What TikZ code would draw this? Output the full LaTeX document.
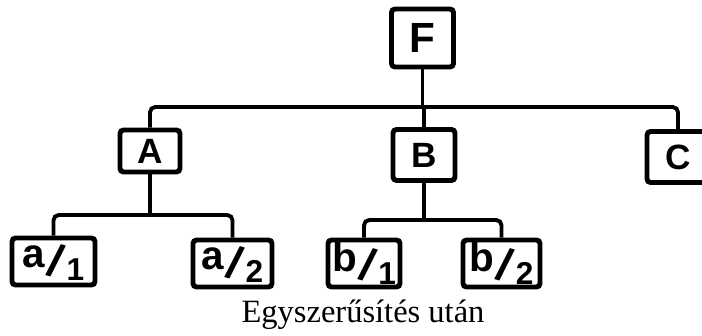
\documentclass[tikz,border=0pt]{standalone}
\usepackage{fontspec}
\setmainfont{Liberation Serif}
\setsansfont{Liberation Sans}
\newcommand{\frlabel}[2]{\raisebox{0.3ex}{\fontsize{23}{25}\selectfont #1}\raisebox{-0.2ex}{\rotatebox[origin=c]{-16}{\fontsize{26}{28}\selectfont /}}\raisebox{-0.4ex}{\fontsize{18}{20}\selectfont #2}}
\begin{document}
\begin{tikzpicture}
        \tikzstyle{boxstyle}=[shape=rectangle,draw,line width=2.8pt,rounded corners=2pt,inner sep=0cm,font=\fontsize{20}{24}\selectfont\sffamily\bfseries]
        \tikzstyle{linkstyle}=[line width=2.2pt,rounded corners=3pt]
        \useasboundingbox (0, 0) rectangle (14.04, 6.7);

        % the top box
        \node[boxstyle, minimum width=1.24cm, minimum height=1.16cm] at (8.45, 5.94) (F) {\fontsize{24}{28}\selectfont F};

        % the three boxes of the middle row
        \node[boxstyle, minimum width=1.2cm, minimum height=0.84cm] at (3.0, 3.68) (A) {A};
        \node[boxstyle, minimum width=1.24cm, minimum height=1.02cm] at (8.48, 3.6) (B) {B};
        \node[boxstyle, minimum width=1.24cm, minimum height=1.02cm] at (13.56, 3.56) (C) {C};

        % the boxes of the bottom row
        \node[boxstyle, minimum width=1.66cm, minimum height=0.94cm] at (1.07, 1.47) (a1) {\frlabel{a}{1}};
        \node[boxstyle, minimum width=1.58cm, minimum height=0.94cm] at (4.65, 1.43) (a2) {\frlabel{a}{2}};
        \node[boxstyle, minimum width=1.44cm, minimum height=0.94cm] at (7.28, 1.43) (b1) {\frlabel{b}{1}};
        \node[boxstyle, minimum width=1.54cm, minimum height=0.94cm] at (10.03, 1.43) (b2) {\frlabel{b}{2}};

        % the branching points
        \coordinate (busF) at (8.45, 4.56);
        \coordinate (busA) at (3.0, 2.4);
        \coordinate (busB) at (8.48, 2.3);

        % draw the lines from F down to A, B and C
        \draw[linkstyle] (F) -- (busF);
        \draw[linkstyle] (A.north) |- (busF) -| (C.north);
        \draw[linkstyle] (B.north) -- (B.north |- busF);

        % draw the lines below A and B
        \draw[linkstyle] (A.south) -- (busA);
        \draw[linkstyle] (a1.north) |- (busA) -| (a2.north);
        \draw[linkstyle] (B.south) -- (busB);
        \draw[linkstyle] (b1.north) |- (busB) -| (b2.north);

        % the caption under the picture
        \node[anchor=base, font=\fontsize{18.5}{22}\selectfont] at (7.26, 0.26) (caption) {Egyszerűsítés után};
    \end{tikzpicture}
\end{document}
